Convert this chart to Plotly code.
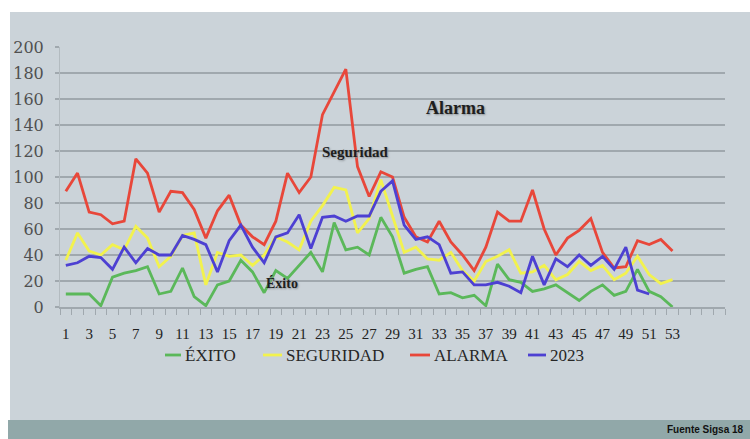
import plotly.graph_objects as go

# Weekly counts per series (week number on the x axis)
semanas = list(range(1, 54))

exito = [10, 10, 10, 1, 23, 26, 28, 31, 10, 12, 30, 8, 1, 17, 20, 36, 27, 11, 28, 22,
         32, 42, 27, 65, 44, 46, 40, 69, 54, 26, 29, 31, 10, 11, 7, 9, 1, 33, 21, 19,
         12, 14, 17, 11, 5, 12, 17, 9, 12, 29, 12, 8, 0]

seguridad = [36, 57, 43, 40, 48, 44, 62, 53, 31, 39, 55, 57, 17, 42, 39, 40, 32, 40, 54, 50,
             44, 66, 78, 92, 90, 57, 68, 98, 70, 42, 46, 37, 36, 42, 28, 20, 35, 39, 44, 26,
             27, 32, 21, 25, 35, 28, 32, 21, 26, 39, 25, 18, 21]

alarma = [89, 103, 73, 71, 64, 66, 114, 103, 73, 89, 88, 75, 53, 74, 86, 63, 54, 48, 66, 103,
          88, 100, 148, 166, 183, 108, 85, 104, 100, 69, 54, 50, 66, 50, 40, 28, 46, 73, 66, 66,
          90, 60, 40, 53, 59, 68, 42, 30, 31, 51, 48, 52, 43]

serie_2023 = [32, 34, 39, 38, 29, 46, 34, 45, 40, 40, 55, 52, 48, 27, 51, 63, 46, 34, 54, 57,
              71, 45, 69, 70, 66, 70, 70, 89, 97, 63, 52, 54, 48, 26, 27, 17, 17, 19, 16, 11,
              39, 17, 37, 31, 40, 32, 39, 29, 46, 13, 10]

y_ticks = list(range(0, 201, 20))
x_ticks = list(range(1, 54, 2))

nombres = ["ÉXITO", "SEGURIDAD", "ALARMA", "2023"]
colores = ["#5bb85a", "#f2f24e", "#e8473a", "#4d40d2"]
series = [exito, seguridad, alarma, serie_2023]

W, H = 750, 439
L, R, T, B = 60, 25, 47, 132
PW, PH = W - L - R, H - T - B


def px(x):
    return (x - L) / PW


def py(y):
    return (H - B - y) / PH


fig = go.Figure()
for nombre, color, valores in zip(nombres, colores, series):
    fig.add_trace(go.Scatter(
        x=semanas[:len(valores)], y=valores, mode="lines", name=nombre,
        line=dict(color=color, width=2.8), showlegend=False,
    ))

grid = "#a0a8ae"
panel = "#cbd3d9"

shapes = [
    # grey-blue panel behind the chart
    dict(type="rect", xref="paper", yref="paper", x0=px(10), x1=px(750), y0=py(420), y1=py(12),
         fillcolor=panel, line_width=0, layer="below"),
    # footer band
    dict(type="rect", xref="paper", yref="paper", x0=px(8), x1=px(750), y0=py(439), y1=py(420),
         fillcolor="#91a8a9", line_width=0, layer="below"),
]


def label(text, x, y, size, family="Liberation Serif", color="#1e1e1e", xanchor="center",
          shadow=None):
    font = dict(family=family, size=size, color=color)
    if shadow:
        font["shadow"] = shadow
    return dict(text=text, x=px(x), y=py(y), xref="paper", yref="paper", showarrow=False,
                xanchor=xanchor, yanchor="middle", font=font)


sombra = "1px 1px 2px #8a9095"
annotations = [
    label("<b>Alarma</b>", 455, 108, 18, shadow=sombra),
    label("<b>Seguridad</b>", 355, 152, 15, shadow=sombra),
    label("<b>Éxito</b>", 282, 283, 14, shadow=sombra),
    label("<b>Fuente Sigsa 18</b>", 746, 429, 10, family="Liberation Sans", color="#111111",
          xanchor="right"),
]

# hand-placed legend: short coloured dash followed by the series name
legend_pos = [(165, 183), (263, 284), (410, 432), (528, 548)]
for (x0, xt), nombre, color in zip(legend_pos, nombres, colores):
    shapes.append(dict(type="line", xref="paper", yref="paper", x0=px(x0), x1=px(xt - 2),
                       y0=py(355), y1=py(355), line=dict(color=color, width=2.8)))
    annotations.append(label(nombre, xt, 355, 17, color="#262626", xanchor="left"))

fig.update_layout(
    width=W, height=H,
    margin=dict(l=L, r=R, t=T, b=B, pad=0),
    paper_bgcolor="white",
    plot_bgcolor="rgba(0,0,0,0)",
    shapes=shapes,
    annotations=annotations,
    showlegend=False,
    xaxis=dict(
        range=[0.5, 57.5], tickmode="array", tickvals=x_ticks,
        ticktext=[str(v) for v in x_ticks],
        showgrid=False, zeroline=False, showline=True, linecolor=grid, linewidth=1.5,
        ticks="", ticklabelstandoff=12,
        tickfont=dict(family="Liberation Serif", size=15, color="#222222"),
        minor=dict(tickmode="linear", tick0=0.5, dtick=1, ticks="outside", ticklen=6,
                   tickcolor=grid, tickwidth=1, showgrid=False),
    ),
    yaxis=dict(
        range=[0, 200], tickmode="array", tickvals=y_ticks,
        showgrid=True, gridcolor=grid, gridwidth=1.8, zeroline=False,
        showline=True, linecolor="#b3bbc0", linewidth=1,
        ticks="outside", ticklen=4, tickcolor=grid, tickwidth=1.5,
        ticklabelstandoff=8,
        tickfont=dict(family="DejaVu Serif", size=16, color="#505050"),
    ),
)

fig.write_html("out.html")
